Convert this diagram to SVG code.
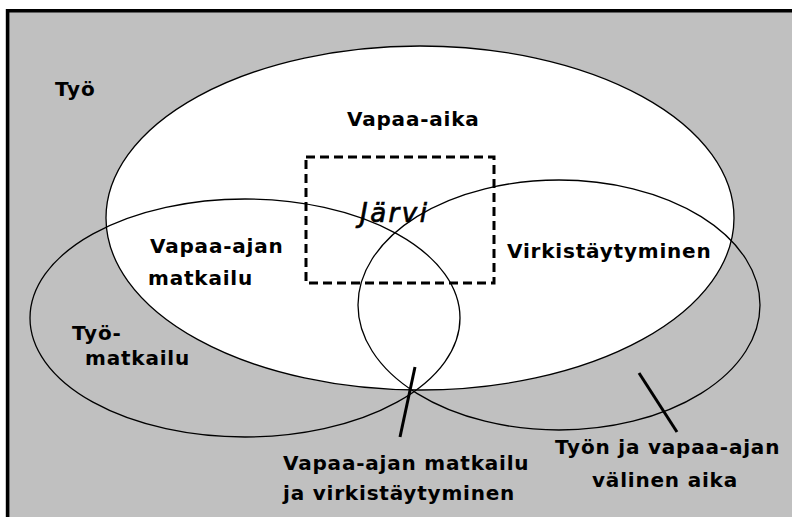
<svg xmlns="http://www.w3.org/2000/svg" width="792" height="517" viewBox="0 0 792 517">
<style>
.lbl{font-family:"DejaVu Sans","Liberation Sans",sans-serif;font-weight:bold;font-size:20px;letter-spacing:0.8px;fill:#000}
.it{font-family:"DejaVu Sans","Liberation Sans",sans-serif;font-style:italic;font-size:26px;letter-spacing:2.5px;fill:#000;stroke:#000;stroke-width:0.7}
.ell{fill:none;stroke:#000;stroke-width:1.3}
.ptr{stroke:#000;stroke-width:3;stroke-linecap:butt}
</style>
<rect x="0" y="0" width="792" height="517" fill="#fff"/>
<g id="tyo">
<rect x="6" y="9" width="786" height="508" fill="#c0c0c0"/>
<path d="M7.6,517 V10.8 H792" fill="none" stroke="#000" stroke-width="3.6"/>
<text class="lbl" x="55" y="96">Työ</text>
</g>
<g id="vapaa-aika">
<ellipse cx="420" cy="218" rx="314" ry="172" fill="#fff" stroke="#000" stroke-width="1.3"/>
<text class="lbl" x="347" y="126">Vapaa-aika</text>
</g>
<g id="matkailu">
<ellipse class="ell" cx="245" cy="318" rx="215" ry="119"/>
<text class="lbl" x="150" y="253">Vapaa-ajan</text>
<text class="lbl" x="148" y="285">matkailu</text>
<text class="lbl" x="72" y="340">Työ-</text>
<text class="lbl" x="85" y="365">matkailu</text>
</g>
<g id="virkistaytyminen">
<ellipse class="ell" cx="559" cy="305" rx="201" ry="125"/>
<text class="lbl" x="507" y="258">Virkistäytyminen</text>
</g>
<g id="jarvi">
<rect x="306" y="157" width="188" height="126" fill="none" stroke="#000" stroke-width="3" stroke-dasharray="9,5"/>
<text class="it" x="360" y="222">Järvi</text>
</g>
<g id="label-vapaa-ajan-matkailu-ja-virkistaytyminen">
<text class="lbl" x="283" y="470">Vapaa-ajan matkailu</text>
<text class="lbl" x="283" y="500">ja virkistäytyminen</text>
</g>
<g id="label-tyon-ja-vapaa-ajan-valinen-aika">
<text class="lbl" x="555" y="454">Työn ja vapaa-ajan</text>
<text class="lbl" x="592" y="487">välinen aika</text>
</g>
<g id="connectors">
<line class="ptr" x1="415" y1="367" x2="400" y2="437"/>
<line class="ptr" x1="639" y1="373" x2="677" y2="432"/>
</g>
</svg>
